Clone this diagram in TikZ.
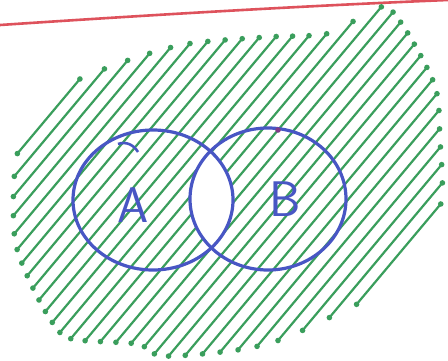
\documentclass[tikz,border=0pt]{standalone}
\usetikzlibrary{intersections}
\definecolor{hgreen}{RGB}{58,158,92}
\definecolor{pblue}{RGB}{72,86,196}
\definecolor{pred}{RGB}{222,82,92}
\begin{document}
\begin{tikzpicture}[x=1pt,y=-1pt,
  hatch/.style={draw=hgreen, line width=2.2pt, line cap=round},
  hdot/.style={fill=hgreen},
  penline/.style={draw=pblue, line width=3.2pt},
  letter/.style={text=pblue, font=\fontsize{50}{50}\selectfont\sffamily, inner sep=0pt}]
\useasboundingbox (0,0) rectangle (448,360);
\fill[white] (0,0) rectangle (448,360);
% red margin line
\draw[pred, line width=2.6pt] (0,25) .. controls (150,15) and (300,6) .. (448,0);
% blob outline (invisible)
\path[name path global=blob] plot[smooth cycle, tension=0.5] coordinates {
 (40,115) (62,88) (123,62) (187,44) (267,37) (330,33) (380,7) (402,24)
 (435,86) (440,140) (442,195) (430,235) (388,288) (353,306) (285,338)
 (237,350) (163,356) (137,344) (72,339) (52,322) (30,282) (15,240)
 (14,180) (22,135)};
% hatching (about 50 degrees)
\foreach \s in {112,124.3,...,476} {
  \path[name path global=L] ({\s*0.766-385.8},{\s*0.643+459.6}) -- ({\s*0.766+385.8},{\s*0.643-459.6});
  \path[name intersections={of=L and blob}] (intersection-1) coordinate (p1)
        (intersection-2) coordinate (p2);
  \draw[hatch] (p1) -- (p2);
  \fill[hdot] (p1) circle (2.8pt) (p2) circle (2.8pt);
}
% white lens of A and B
\begin{scope}
  \clip (153,200) ellipse [x radius=80, y radius=70];
  \fill[white] (268,199) ellipse [x radius=78, y radius=71];
\end{scope}
% circles
\draw[penline] (153,200) ellipse [x radius=80, y radius=70];
\draw[penline] (268,199) ellipse [x radius=78, y radius=71];
\draw[penline, line width=2.6pt] (118,144) .. controls (126,141) and (134,145) .. (138,152);
\fill[pblue!70!red] (278,130) circle (2.8pt);
% labels
\node[letter] (lA) at (133,205) {A};
\node[letter] (lB) at (285,199) {B};
\end{tikzpicture}
\end{document}
